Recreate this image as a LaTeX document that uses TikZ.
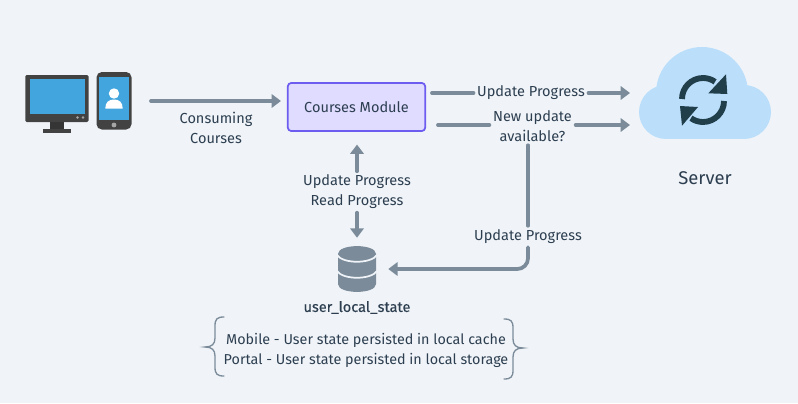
\documentclass[tikz,border=0pt]{standalone}
\usepackage{fontspec}
\setmainfont{Fira Sans}
\usetikzlibrary{arrows.meta}
\definecolor{pagebg}{RGB}{240,244,248}
\definecolor{flowgray}{RGB}{123,139,154}
\definecolor{labelink}{RGB}{44,62,80}
\definecolor{moduleline}{RGB}{108,92,240}
\definecolor{modulefill}{RGB}{224,220,255}
\definecolor{cloudfill}{RGB}{187,222,251}
\definecolor{syncink}{RGB}{33,62,75}
\definecolor{monitorgray}{RGB}{66,66,66}
\definecolor{screenblue}{RGB}{66,165,222}
\tikzset{
  flow/.style={draw=flowgray,line width=2.8pt,line cap=round,-{Triangle[length=7pt,width=10pt]}},
  flowplain/.style={draw=flowgray,line width=2.8pt,line cap=round},
  lbl/.style={text=labelink,inner sep=2.6pt,align=center,font=\fontsize{10.9}{15}\selectfont},
  bracket/.style={draw=flowgray,line width=1pt,line cap=round},
}
\begin{document}
\begin{tikzpicture}[x=0.75pt,y=0.75pt,yscale=-1,xscale=1]
\useasboundingbox (0,0) rectangle (798,403);
\fill [pagebg] (0,0) rectangle (798,403);

%Monitor
\fill [monitorgray,rounded corners=1pt] (25.3,75) rectangle (88.5,122);
\fill [screenblue] (29.5,79) rectangle (84.5,113.5);
\fill [monitorgray!80!black] (50,122) rectangle (64,130);
\fill [monitorgray] (43,129) rectangle (71,133);
\fill [gray!70] (77.5,117.5) circle (1.4);
\fill [gray!70] (83,117.5) circle (1.4);
%Phone
\fill [monitorgray,rounded corners=4pt] (96.5,72) rectangle (131.5,129.5);
\fill [screenblue] (99,77) rectangle (129,120);
\fill [gray!70] (114,125) circle (2.4);
\fill [white] (114,93.5) circle (5.2);
\fill [white] (105.3,108.5) .. controls (105.3,102) and (109,99.5) .. (114,99.5) .. controls (119,99.5) and (122.7,102) .. (122.7,108.5) -- cycle;

%Cloud
\fill [cloudfill] (702,93) circle (46);
\fill [cloudfill] (666,112) circle (27);
\fill [cloudfill] (744,112) circle (27);
\fill [cloudfill] (666,100) rectangle (744,139);
%Sync icon
\draw [syncink,line width=4.4pt] (682,99) arc[start angle=180,end angle=305,radius=21];
\fill [syncink] (726,74.3) -- (727.3,94) -- (708.3,93.3) -- cycle;
\draw [syncink,line width=4.4pt] (724,101) arc[start angle=0,end angle=125,radius=21];
\fill [syncink] (680,106) -- (698,107) -- (682,125.7) -- cycle;

%Database
\node [minimum width=28.5pt,minimum height=34.5pt,inner sep=0pt] (userdb) at (357,269) {};
\fill [flowgray] (338,254) .. controls (338,243.5) and (376,243.5) .. (376,254) -- (376,284) .. controls (376,294.5) and (338,294.5) .. (338,284) -- cycle;
\draw [pagebg,line width=1.3pt] (337,255) .. controls (343,264) and (371,264) .. (377,255);
\draw [pagebg,line width=1.3pt] (337,271) .. controls (343,280) and (371,280) .. (377,271);

%Courses module
\node [draw=moduleline,fill=modulefill,line width=1.3pt,rounded corners=2.5pt,minimum width=103pt,minimum height=36pt,lbl] (courses) at (356.5,107) {\raisebox{-0.5pt}{Courses Module}};

% Text Node
\coordinate (devicesout) at (151,101);
\coordinate (serverintop) at (630,93);
\coordinate (serverinlow) at (630,125);
\coordinate (coursesouttop) at (432,93);
\coordinate (coursesoutlow) at (438,125);
\node [lbl] (consuming) at (216,128) {Consuming\\Courses};
\node [lbl] (updatetop) at (531,93) {Update Progress};
\node [lbl] (newupdate) at (532.5,126) {New update\\available?};
\node [lbl] (updatelow) at (528,236.5) {Update Progress};
\node [lbl] (readwrite) at (357,192) {Update Progress\\Read Progress};
\node [lbl,font=\fontsize{13.8}{15}\selectfont] (server) at (705,178) {Server};
\node [lbl,font=\fontsize{10.9}{15}\selectfont\addfontfeatures{FakeBold=0.2}] (statelbl) at (357,307.5) {user\_local\_state};
\node [lbl,font=\fontsize{10.75}{15}\selectfont] (persisted) at (366,350) {Mobile - User state persisted in local cache\\Portal - User state persisted in local storage};

%Connectors
\draw [flow,shorten >=4.5pt] (devicesout) -- (devicesout -| courses.west);
\draw [flowplain] (coursesouttop) -- (updatetop);
\draw [flow] (updatetop) -- (serverintop);
\draw [flowplain] (coursesoutlow) -- (coursesoutlow -| newupdate.west);
\draw [flow] (coursesoutlow -| newupdate.east) -- (serverinlow);
\draw [flowplain] (newupdate.south -| updatelow.north) -- (updatelow);
\draw [flow,rounded corners=8pt,shorten >=9pt] (updatelow) |- (userdb.east);
\draw [flow,shorten >=9.5pt] (readwrite) -- (readwrite |- courses.south);
\draw [flow,shorten >=6pt] (readwrite) -- (userdb);

%Braces
\draw [bracket] (224,317) .. controls (217,317) and (215,319) .. (215,326) -- (215,338) .. controls (215,344) and (212,347) .. (205,347) .. controls (212,347) and (215,350) .. (215,356) -- (215,367) .. controls (215,374) and (217,376) .. (224,376);
\draw [bracket] (504,319) .. controls (511,319) and (513,321) .. (513,328) -- (513,339) .. controls (513,345) and (516,348) .. (523,348) .. controls (516,348) and (513,351) .. (513,357) -- (513,370) .. controls (513,377) and (511,379) .. (504,379);
\end{tikzpicture}
\end{document}
